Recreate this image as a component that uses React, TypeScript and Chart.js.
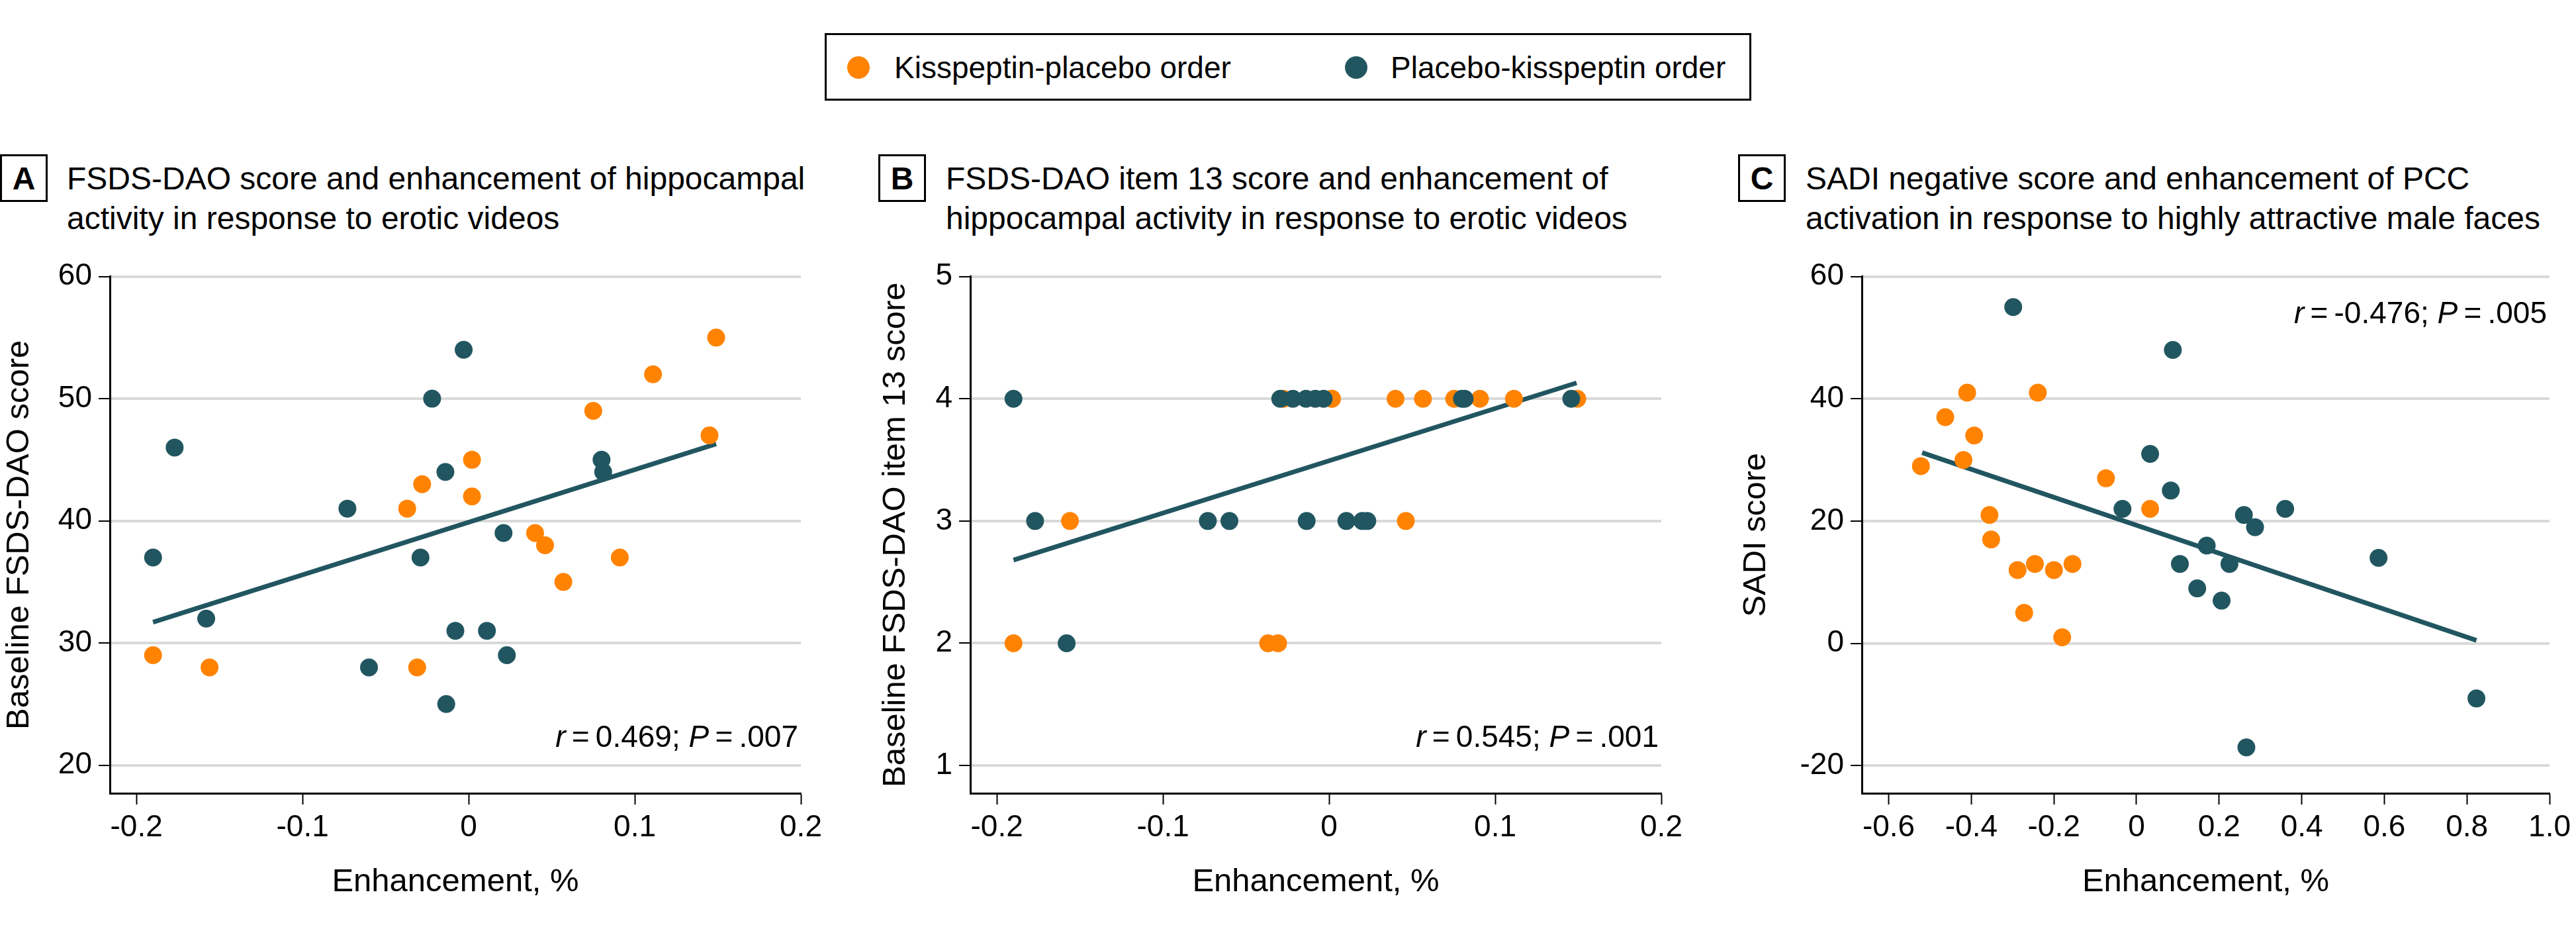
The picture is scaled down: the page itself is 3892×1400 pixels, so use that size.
import React, { useEffect, useRef } from "react";
import { Chart, registerables } from "chart.js";
Chart.register(...registerables);

const ORANGE = "#FF8300";
const TEAL = "#215661";
const FONT = "'Liberation Sans', Arial, sans-serif";

// ---------- Panel A data ----------
const orangeAX = [0.149, 0.111, 0.075, 0.145, 0.002, -0.028, 0.002, -0.037, 0.040, 0.046, 0.091, 0.057, -0.190, -0.156, -0.031];
const orangeAY = [55, 52, 49, 47, 45, 43, 42, 41, 39, 38, 37, 35, 29, 28, 28];
const tealAX = [-0.003, -0.022, -0.177, 0.080, -0.014, 0.081, -0.073, 0.021, -0.190, -0.029, -0.158, -0.008, 0.011, 0.023, -0.060, -0.0135];
const tealAY = [54, 50, 46, 45, 44, 44, 41, 39, 37, 37, 32, 31, 31, 29, 28, 25];
const fitAX = [-0.190, 0.149];
const fitAY = [31.7, 46.3];
const xTicksA = [-0.2, -0.1, 0, 0.1, 0.2];
const xLabelsA = ["-0.2", "-0.1", "0", "0.1", "0.2"];
const yTicksA = [20, 30, 40, 50, 60];
const yLabelsA = ["20", "30", "40", "50", "60"];

// ---------- Panel B data ----------
const orangeBX = [-0.0275, 0.0017, 0.0017, 0.040, 0.0565, 0.0753, 0.0908, 0.1113, 0.1494, -0.156, 0.0462, -0.190, -0.0367, -0.0307];
const orangeBY = [4, 4, 4, 4, 4, 4, 4, 4, 4, 3, 3, 2, 2, 2];
const tealBX = [-0.190, -0.0294, -0.0218, -0.0139, -0.0083, -0.0033, 0.080, 0.0816, 0.1458, -0.177, -0.073, -0.060, -0.0135, 0.0104, 0.020, 0.023, -0.158];
const tealBY = [4, 4, 4, 4, 4, 4, 4, 4, 4, 3, 3, 3, 3, 3, 3, 3, 2];
const fitBX = [-0.190, 0.149];
const fitBY = [2.68, 4.13];
const xTicksB = [-0.2, -0.1, 0, 0.1, 0.2];
const xLabelsB = ["-0.2", "-0.1", "0", "0.1", "0.2"];
const yTicksB = [1, 2, 3, 4, 5];
const yLabelsB = ["1", "2", "3", "4", "5"];

// ---------- Panel C data ----------
const orangeCX = [-0.410, -0.239, -0.463, -0.393, -0.419, -0.522, -0.074, 0.033, -0.356, -0.352, -0.246, -0.155, -0.288, -0.200, -0.272, -0.180];
const orangeCY = [41, 41, 37, 34, 30, 29, 27, 22, 21, 17, 13, 13, 12, 12, 5, 1];
const tealCX = [-0.2985, 0.088, 0.033, 0.083, -0.034, 0.360, 0.260, 0.287, 0.170, 0.586, 0.105, 0.225, 0.147, 0.206, 0.823, 0.266];
const tealCY = [55, 48, 31, 25, 22, 22, 21, 19, 16, 14, 13, 13, 9, 7, -9, -17];
const fitCX = [-0.519, 0.823];
const fitCY = [31.2, 0.5];
const xTicksC = [-0.6, -0.4, -0.2, 0, 0.2, 0.4, 0.6, 0.8, 1.0];
const xLabelsC = ["-0.6", "-0.4", "-0.2", "0", "0.2", "0.4", "0.6", "0.8", "1.0"];
const yTicksC = [-20, 0, 20, 40, 60];
const yLabelsC = ["-20", "0", "20", "40", "60"];

const statsA = { r: "0.469", p: ".007" };
const statsB = { r: "0.545", p: ".001" };
const statsC = { r: "-0.476", p: ".005" };

const legendLabels = ["Kisspeptin-placebo order", "Placebo-kisspeptin order"];

const zip = (xs: number[], ys: number[]) => xs.map((x, i) => ({ x, y: ys[i] }));

const statsPlugin = {
  id: "stats",
  afterDatasetsDraw(chart: any, _args: any, opts: any) {
    if (!opts || !opts.stat) return;
    const { ctx, chartArea } = chart;
    const size = 46;
    const y = opts.anchor === "top" ? chartArea.top + opts.offset : chartArea.bottom - opts.offset;
    const parts = [
      { t: "r", it: true },
      { t: "\u2009=\u2009" + opts.stat.r + "; ", it: false },
      { t: "P", it: true },
      { t: "\u2009=\u2009" + opts.stat.p, it: false },
    ];
    ctx.save();
    ctx.textBaseline = "middle";
    ctx.textAlign = "left";
    ctx.fillStyle = "#000";
    const widths: number[] = [];
    let total = 0;
    parts.forEach((p) => {
      ctx.font = `${p.it ? "italic " : ""}${size}px ${FONT}`;
      const w = ctx.measureText(p.t).width;
      widths.push(w);
      total += w;
    });
    let x = chartArea.right - 4 - total;
    parts.forEach((p, i) => {
      ctx.font = `${p.it ? "italic " : ""}${size}px ${FONT}`;
      ctx.fillText(p.t, x, y);
      x += widths[i];
    });
    ctx.restore();
  },
};

type Spec = {
  orange: { x: number; y: number }[];
  teal: { x: number; y: number }[];
  fit: { x: number; y: number }[];
  xMin: number; xMax: number; xTicks: number[]; xLabels: string[];
  yMin: number; yMax: number; yTicks: number[]; yLabels: string[];
  yTitle: string; yWidth: number; yTitlePad: number; padRight: number;
  stat: { r: string; p: string }; anchor: string; offset: number;
};

function Panel({ spec, width, left }: { spec: Spec; width: number; left: number }) {
  const ref = useRef<HTMLCanvasElement | null>(null);
  useEffect(() => {
    if (!ref.current) return;
    const tickFont = { family: FONT, size: 46, lineHeight: 1.2 };
    const titleFont = { family: FONT, size: 49, lineHeight: 1.2 };
    const chart = new Chart(ref.current, {
      type: "scatter",
      data: {
        datasets: [
          { data: spec.teal, backgroundColor: TEAL, borderWidth: 0, pointRadius: 13.5, pointHoverRadius: 13.5, order: 0 },
          { data: spec.orange, backgroundColor: ORANGE, borderWidth: 0, pointRadius: 13.5, pointHoverRadius: 13.5, order: 1 },
          { data: spec.fit, showLine: true, borderColor: TEAL, borderWidth: 7, pointRadius: 0, fill: false, order: 2 } as any,
        ],
      },
      options: {
        animation: false,
        responsive: false,
        devicePixelRatio: 1,
        layout: { padding: { left: 0, top: 37, right: spec.padRight, bottom: 0 } },
        plugins: {
          legend: { display: false },
          tooltip: { enabled: false },
          stats: { stat: spec.stat, anchor: spec.anchor, offset: spec.offset },
        } as any,
        scales: {
          x: {
            type: "linear",
            min: spec.xMin,
            max: spec.xMax,
            afterBuildTicks: (axis: any) => { axis.ticks = spec.xTicks.map((v) => ({ value: v })); },
            afterFit: (axis: any) => { axis.height = 202; },
            ticks: {
              font: tickFont, color: "#000", padding: 8, maxRotation: 0, autoSkip: false,
              callback: (_v: any, i: number) => spec.xLabels[i],
            },
            grid: { display: true, drawOnChartArea: false, drawTicks: true, tickLength: 17, tickColor: "#000", tickWidth: 2 },
            border: { display: true, color: "#000", width: 3 },
            title: { display: true, text: "Enhancement, %", font: titleFont, color: "#000", padding: { top: 0, bottom: 38 } },
          },
          y: {
            type: "linear",
            min: spec.yMin,
            max: spec.yMax,
            afterBuildTicks: (axis: any) => { axis.ticks = spec.yTicks.map((v) => ({ value: v })); },
            afterFit: (axis: any) => { axis.width = spec.yWidth; },
            ticks: {
              font: tickFont, color: "#000", padding: 10, autoSkip: false,
              callback: (_v: any, i: number) => spec.yLabels[i],
            },
            grid: { display: true, drawOnChartArea: true, color: "#D9D9D9", lineWidth: 4, drawTicks: true, tickLength: 17, tickColor: "#000", tickWidth: 2 },
            border: { display: true, color: "#000", width: 3 },
            title: { display: true, text: spec.yTitle, font: titleFont, color: "#000", padding: { top: spec.yTitlePad, bottom: 0 } },
          },
        },
      } as any,
      plugins: [statsPlugin as any],
    });
    return () => chart.destroy();
  }, []);
  return (
    <div style={{ position: "absolute", left, top: 380, width, height: 1020 }}>
      <canvas ref={ref} width={width} height={1020} style={{ width, height: 1020, display: "block" }} />
    </div>
  );
}

const specA: Spec = {
  orange: zip(orangeAX, orangeAY), teal: zip(tealAX, tealAY), fit: zip(fitAX, fitAY),
  xMin: -0.216, xMax: 0.2, xTicks: xTicksA, xLabels: xLabelsA,
  yMin: 17.7, yMax: 60, yTicks: yTicksA, yLabels: yLabelsA,
  yTitle: "Baseline FSDS-DAO score", yWidth: 166, yTitlePad: 0, padRight: 90,
  stat: statsA, anchor: "bottom", offset: 83,
};
const specB: Spec = {
  orange: zip(orangeBX, orangeBY), teal: zip(tealBX, tealBY), fit: zip(fitBX, fitBY),
  xMin: -0.216, xMax: 0.2, xTicks: xTicksB, xLabels: xLabelsB,
  yMin: 0.773, yMax: 5, yTicks: yTicksB, yLabels: yLabelsB,
  yTitle: "Baseline FSDS-DAO item 13 score", yWidth: 166, yTitlePad: 24, padRight: 90,
  stat: statsB, anchor: "bottom", offset: 83,
};
const specC: Spec = {
  orange: zip(orangeCX, orangeCY), teal: zip(tealCX, tealCY), fit: zip(fitCX, fitCY),
  xMin: -0.665, xMax: 1.0, xTicks: xTicksC, xLabels: xLabelsC,
  yMin: -24.5, yMax: 60, yTicks: yTicksC, yLabels: yLabelsC,
  yTitle: "SADI score", yWidth: 213, yTitlePad: 24, padRight: 35,
  stat: statsC, anchor: "top", offset: 58,
};

const titleStyle: React.CSSProperties = {
  position: "absolute", top: 240, fontSize: 48, lineHeight: "60px", color: "#000", whiteSpace: "nowrap",
};
const boxStyle: React.CSSProperties = {
  position: "absolute", top: 233, width: 72, height: 72, border: "3px solid #000", boxSizing: "border-box",
  display: "flex", alignItems: "center", justifyContent: "center", fontSize: 48, fontWeight: 700, color: "#000",
};

export default function App() {
  return (
    <div style={{ position: "absolute", left: 0, top: 0, width: 3892, height: 1400, background: "#fff", fontFamily: FONT, overflow: "hidden" }}>
      <div style={{ position: "absolute", left: 1246, top: 50, width: 1400, height: 102, border: "3px solid #000", boxSizing: "border-box" }} />
      <div style={{ position: "absolute", left: 1280, top: 85, width: 34, height: 34, borderRadius: "50%", background: ORANGE }} />
      <div style={{ position: "absolute", left: 1351, top: 72, fontSize: 46, lineHeight: "60px", whiteSpace: "nowrap" }}>{legendLabels[0]}</div>
      <div style={{ position: "absolute", left: 2032, top: 85, width: 34, height: 34, borderRadius: "50%", background: TEAL }} />
      <div style={{ position: "absolute", left: 2101, top: 72, fontSize: 46, lineHeight: "60px", whiteSpace: "nowrap" }}>{legendLabels[1]}</div>

      <div style={{ ...boxStyle, left: 0 }}>A</div>
      <div style={{ ...titleStyle, left: 101 }}>FSDS-DAO score and enhancement of hippocampal<br />activity in response to erotic videos</div>
      <div style={{ ...boxStyle, left: 1327 }}>B</div>
      <div style={{ ...titleStyle, left: 1429 }}>FSDS-DAO item 13 score and enhancement of<br />hippocampal activity in response to erotic videos</div>
      <div style={{ ...boxStyle, left: 2626 }}>C</div>
      <div style={{ ...titleStyle, left: 2728 }}>SADI negative score and enhancement of PCC<br />activation in response to highly attractive male faces</div>

      <Panel spec={specA} width={1300} left={0} />
      <Panel spec={specB} width={1300} left={1300} />
      <Panel spec={specC} width={1292} left={2600} />
    </div>
  );
}
